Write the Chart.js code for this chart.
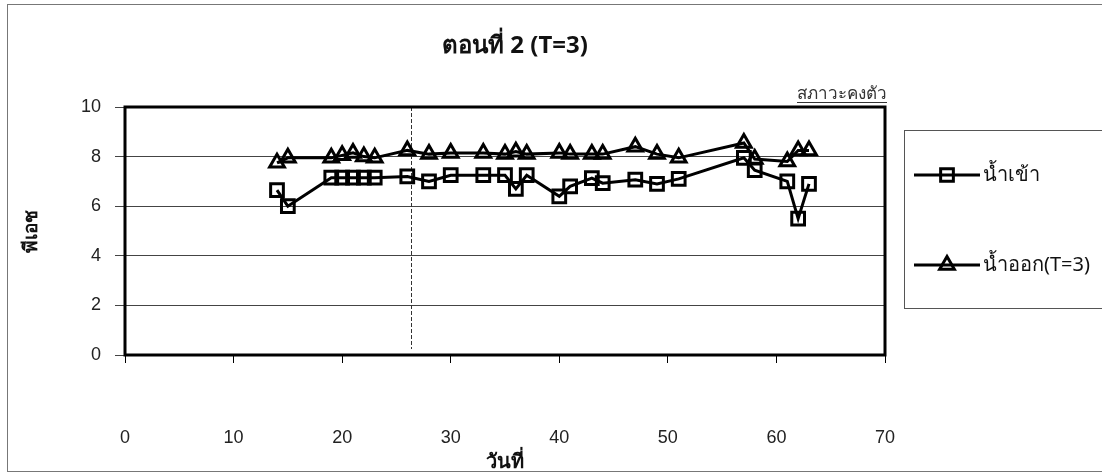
<!DOCTYPE html>
<html>
<head>
<meta charset="utf-8">
<script src="https://cdn.jsdelivr.net/npm/chart.js@4.4.1/dist/chart.umd.min.js"></script>
<style>
  html, body { margin: 0; padding: 0; background: #fff; }
  #wrap { width: 1102px; height: 476px; }
</style>
</head>
<body>
<div id="wrap"><canvas id="chart" width="1102" height="476"></canvas></div>
<script>
// วันที่ (day) of each sample, shared by both series
const days = [14, 15, 19, 20, 21, 22, 23, 26, 28, 30, 33, 35, 36, 37, 40, 41, 43, 44, 47, 49, 51, 57, 58, 61, 62, 63];
// pH of influent (น้ำเข้า)
const phIn = [6.65, 6.0, 7.15, 7.15, 7.15, 7.15, 7.15, 7.2, 7.0, 7.25, 7.25, 7.25, 6.7, 7.25, 6.4, 6.8, 7.13, 6.93, 7.07, 6.9, 7.1, 7.95, 7.45, 7.0, 5.5, 6.9];
// pH of effluent (น้ำออก T=3)
const phOut = [7.75, 7.95, 7.95, 8.05, 8.15, 8.0, 7.95, 8.25, 8.1, 8.15, 8.15, 8.1, 8.2, 8.1, 8.15, 8.1, 8.1, 8.1, 8.4, 8.1, 7.95, 8.55, 7.9, 7.8, 8.25, 8.25];

const seriesNames = ['น้ำเข้า', 'น้ำออก(T=3)'];
const titleText = 'ตอนที่ 2 (T=3)';
const steadyLabel = 'สภาวะคงตัว';
const steadyDay = 26.3;   // start of steady state (dashed line)
const xRange = [0, 70];
const yRange = [0, 10];

const FONT = "'Liberation Sans', Arial, sans-serif";
const THAI = "'Noto Sans', 'DejaVu Sans', sans-serif";

const toPoints = vals => vals.map((v, i) => ({ x: days[i], y: v }));

const decorations = {
  id: 'decorations',
  beforeDraw(chart) {
    const ctx = chart.ctx;
    ctx.save();
    ctx.fillStyle = '#fff';
    ctx.fillRect(0, 0, chart.width, chart.height);
    ctx.strokeStyle = '#777';
    ctx.lineWidth = 1;
    ctx.strokeRect(7.5, 4.5, chart.width - 5, chart.height - 9);
    ctx.restore();
  },
  beforeDatasetsDraw(chart) {
    const { ctx, chartArea: a, scales } = chart;
    ctx.save();
    // steady state marker
    const sx = Math.round(scales.x.getPixelForValue(steadyDay)) + 0.5;
    ctx.strokeStyle = '#333';
    ctx.lineWidth = 1;
    ctx.setLineDash([4, 2]);
    ctx.beginPath();
    ctx.moveTo(sx, a.top);
    ctx.lineTo(sx, a.bottom - 6);
    ctx.stroke();
    ctx.setLineDash([]);
    // plot frame
    ctx.strokeStyle = '#000';
    ctx.lineWidth = 3;
    ctx.strokeRect(a.left, a.top, a.right - a.left, a.bottom - a.top);
    ctx.restore();
  },
  afterDraw(chart) {
    const { ctx, chartArea: a } = chart;
    ctx.save();
    ctx.fillStyle = '#111';
    ctx.textBaseline = 'middle';
    ctx.textAlign = 'center';
    ctx.font = 'bold 24px ' + THAI;
    ctx.fillText(titleText, 515, 46);

    // steady state label, underlined
    ctx.font = '17px ' + THAI;
    ctx.textAlign = 'right';
    ctx.textBaseline = 'alphabetic';
    ctx.fillStyle = '#333';
    ctx.fillText(steadyLabel, a.right + 2, 99);
    const w = ctx.measureText(steadyLabel).width;
    ctx.strokeStyle = '#333';
    ctx.lineWidth = 1;
    ctx.beginPath();
    ctx.moveTo(a.right + 2 - w, 102.5);
    ctx.lineTo(a.right + 2, 102.5);
    ctx.stroke();

    // legend box
    ctx.strokeStyle = '#555';
    ctx.strokeRect(904.5, 130.5, 205, 178);
    const rows = [175, 265];
    chart.data.datasets.forEach((ds, i) => {
      const y = rows[i];
      ctx.strokeStyle = '#000';
      ctx.lineWidth = ds.borderWidth;
      ctx.beginPath();
      ctx.moveTo(914, y);
      ctx.lineTo(980, y);
      ctx.stroke();
      ctx.fillStyle = 'rgba(0,0,0,0)';
      Chart.helpers.drawPoint(ctx, {
        pointStyle: ds.pointStyle, radius: ds.pointRadius, borderWidth: ds.pointBorderWidth
      }, 947, y);
      ctx.fillStyle = '#111';
      ctx.font = '20px ' + THAI;
      ctx.textAlign = 'left';
      ctx.textBaseline = 'middle';
      ctx.fillText(ds.label, 983, y);
    });
    ctx.restore();
  }
};

new Chart(document.getElementById('chart'), {
  type: 'line',
  data: {
    datasets: [
      {
        label: seriesNames[0],
        data: toPoints(phIn),
        borderColor: '#000',
        borderWidth: 3,
        pointStyle: 'rect',
        pointRadius: 9,
        pointBorderWidth: 3,
        pointBorderColor: '#000',
        pointBackgroundColor: 'rgba(0,0,0,0)',
        fill: false,
        tension: 0
      },
      {
        label: seriesNames[1],
        data: toPoints(phOut),
        borderColor: '#000',
        borderWidth: 3,
        pointStyle: 'triangle',
        pointRadius: 8.5,
        pointBorderWidth: 3,
        pointBorderColor: '#000',
        pointBackgroundColor: 'rgba(0,0,0,0)',
        fill: false,
        tension: 0
      }
    ]
  },
  options: {
    responsive: false,
    animation: false,
    layout: { padding: { left: 0, right: 217, top: 107, bottom: 0 } },
    plugins: {
      legend: { display: false },
      tooltip: { enabled: false },
      title: { display: false }
    },
    scales: {
      x: {
        type: 'linear',
        min: xRange[0],
        max: xRange[1],
        ticks: { stepSize: 10, color: '#222', font: { family: FONT, size: 18 }, padding: 64 },
        grid: { drawOnChartArea: false, drawTicks: true, tickLength: 8, color: '#000' },
        border: { display: false },
        title: { display: true, text: 'วันที่', color: '#111', font: { family: THAI, size: 20, weight: 'bold' }, padding: { top: 0, bottom: 2 } },
        afterFit: s => { s.height = 121; }
      },
      y: {
        min: yRange[0],
        max: yRange[1],
        ticks: { stepSize: 2, color: '#222', font: { family: FONT, size: 18 }, padding: 14 },
        grid: { color: '#444', lineWidth: 1, tickLength: 10 },
        border: { display: false },
        title: { display: true, text: 'พีเอช', color: '#111', font: { family: THAI, size: 19, weight: 'bold' }, padding: { top: 20, bottom: 0 } },
        afterFit: s => { s.width = 125; }
      }
    }
  },
  plugins: [decorations]
});
</script>
</body>
</html>
